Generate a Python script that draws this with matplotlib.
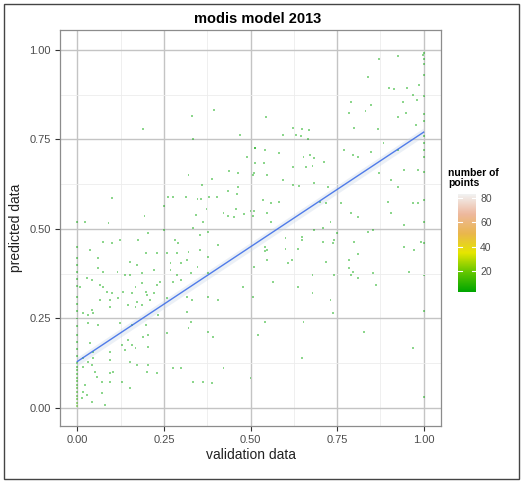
import numpy as np
import matplotlib
matplotlib.use("Agg")
import matplotlib.pyplot as plt
from matplotlib.colors import LinearSegmentedColormap, Normalize
from matplotlib.patches import Rectangle

plt.rcParams['font.family'] = ['Liberation Sans', 'DejaVu Sans']

# scattered single points (validation, predicted)
val_x = [0.332, 0.396, 0.191, 0.335, 0.471, 0.512, 0.491, 0.321, 0.439, 0.465,
         0.506, 0.390, 0.361, 0.465, 0.434, 0.101, 0.263, 0.277, 0.315, 0.347,
         0.358, 0.379, 0.402, 0.462, 0.251, 0.373, 0.457, 0.422, 0.434, 0.451,
         0.480, 0.500, 0.506, 0.344, 0.194, 0.364, 0.023, 0.090,
         0.925, 0.870, 0.997, 0.838, 0.899, 0.913, 0.951, 0.986, 0.968, 0.980,
         0.789, 0.847, 0.939, 0.832, 0.783, 0.948, 0.925, 0.546, 0.624, 0.650,
         0.668, 0.798, 0.867, 0.595, 0.630, 0.645, 0.665, 0.977, 0.514, 0.543,
         0.581, 0.769, 0.795, 0.809, 0.847, 0.884, 0.925, 0.653, 0.673, 0.682,
         0.711, 0.514, 0.538, 0.624, 0.659, 0.679, 0.509, 0.549, 0.595, 0.624,
         0.639, 0.682, 0.725, 0.870, 0.905, 0.925, 0.942, 0.983, 0.535, 0.558,
         0.581, 0.509, 0.549, 0.702, 0.717, 0.760, 0.789, 0.809, 0.896, 0.905,
         0.968, 0.983, 0.558, 0.731, 0.942,
         0.075, 0.101, 0.124, 0.176, 0.205, 0.249, 0.283, 0.292, 0.335, 0.355,
         0.376, 0.405, 0.038, 0.197, 0.231, 0.260, 0.289, 0.321, 0.355, 0.376,
         0.061, 0.153, 0.173, 0.269, 0.298, 0.318, 0.347, 0.509, 0.061, 0.075,
         0.116, 0.139, 0.153, 0.188, 0.220, 0.269, 0.289, 0.327, 0.376, 0.029,
         0.043, 0.066, 0.075, 0.009, 0.168, 0.188, 0.231, 0.240, 0.277, 0.298,
         0.087, 0.101, 0.133, 0.159, 0.197, 0.202, 0.220, 0.066, 0.095, 0.118,
         0.173, 0.211, 0.260, 0.318, 0.332, 0.376, 0.405, 0.477, 0.506, 0.095,
         0.145, 0.168, 0.188, 0.043, 0.017, 0.032, 0.046, 0.234, 0.318, 0.327,
         0.032, 0.061, 0.124, 0.159, 0.197, 0.260, 0.321, 0.376, 0.393, 0.191,
         0.205, 0.145, 0.130, 0.159, 0.139, 0.168, 0.205, 0.038, 0.046, 0.095,
         0.017, 0.032, 0.046, 0.095, 0.153, 0.173, 0.205, 0.231, 0.275, 0.298,
         0.422, 0.017, 0.043, 0.052, 0.058, 0.095, 0.104, 0.072, 0.095, 0.130,
         0.153, 0.202, 0.335, 0.364, 0.390, 0.500, 0.023, 0.017, 0.029, 0.014,
         0.043, 0.072, 0.081,
         0.682, 0.708, 0.751, 0.838, 0.855, 0.601, 0.650, 0.650, 0.708, 0.737,
         0.740, 0.798, 0.543, 0.543, 0.549, 0.601, 0.636, 0.809, 0.942, 0.971,
         0.991, 0.549, 0.607, 0.621, 0.717, 0.783, 0.783, 0.795, 0.789, 0.853,
         0.957, 0.679, 0.740, 0.809, 0.564, 0.636, 0.861, 0.679, 0.731, 0.737,
         0.543, 0.653, 0.523, 0.827, 0.968, 0.650]
pred_y = [0.816, 0.832, 0.779, 0.751, 0.763, 0.726, 0.701, 0.651, 0.662, 0.656,
          0.651, 0.640, 0.623, 0.617, 0.606, 0.587, 0.589, 0.589, 0.589, 0.584,
          0.584, 0.589, 0.589, 0.598, 0.564, 0.556, 0.556, 0.545, 0.536, 0.534,
          0.542, 0.550, 0.536, 0.539, 0.536, 0.520, 0.520, 0.517,
          0.983, 0.975, 0.986, 0.925, 0.894, 0.891, 0.894, 0.902, 0.874, 0.860,
          0.855, 0.846, 0.855, 0.830, 0.824, 0.824, 0.813, 0.813, 0.782, 0.779,
          0.777, 0.782, 0.779, 0.763, 0.763, 0.760, 0.751, 0.791, 0.726, 0.721,
          0.712, 0.721, 0.707, 0.701, 0.715, 0.740, 0.721, 0.701, 0.707, 0.698,
          0.687, 0.684, 0.684, 0.673, 0.673, 0.676, 0.656, 0.651, 0.637, 0.623,
          0.620, 0.628, 0.617, 0.656, 0.637, 0.617, 0.665, 0.665, 0.581, 0.573,
          0.575, 0.550, 0.545, 0.575, 0.573, 0.573, 0.545, 0.534, 0.575, 0.545,
          0.573, 0.573, 0.520, 0.520, 0.511,
          0.464, 0.461, 0.469, 0.469, 0.489, 0.497, 0.469, 0.461, 0.503, 0.483,
          0.492, 0.455, 0.441, 0.433, 0.433, 0.433, 0.433, 0.436, 0.441, 0.422,
          0.419, 0.408, 0.399, 0.405, 0.405, 0.413, 0.394, 0.394, 0.391, 0.380,
          0.380, 0.372, 0.372, 0.377, 0.385, 0.385, 0.372, 0.377, 0.377, 0.363,
          0.358, 0.344, 0.338, 0.338, 0.338, 0.349, 0.344, 0.352, 0.352, 0.358,
          0.324, 0.321, 0.324, 0.321, 0.324, 0.316, 0.321, 0.302, 0.302, 0.307,
          0.296, 0.302, 0.307, 0.310, 0.302, 0.310, 0.302, 0.338, 0.310, 0.282,
          0.288, 0.282, 0.288, 0.274, 0.265, 0.260, 0.265, 0.260, 0.268, 0.240,
          0.237, 0.232, 0.237, 0.232, 0.232, 0.209, 0.223, 0.212, 0.198, 0.198,
          0.204, 0.190, 0.176, 0.176, 0.162, 0.168, 0.170, 0.182, 0.156, 0.156,
          0.140, 0.128, 0.140, 0.134, 0.128, 0.120, 0.120, 0.098, 0.112, 0.112,
          0.112, 0.115, 0.120, 0.101, 0.087, 0.098, 0.101, 0.073, 0.073, 0.073,
          0.056, 0.101, 0.073, 0.073, 0.070, 0.084, 0.064, 0.045, 0.036, 0.028,
          0.017, 0.042, 0.008,
          0.497, 0.503, 0.489, 0.492, 0.497, 0.475, 0.478, 0.469, 0.464, 0.461,
          0.469, 0.464, 0.450, 0.439, 0.441, 0.444, 0.444, 0.430, 0.450, 0.441,
          0.464, 0.413, 0.405, 0.413, 0.408, 0.413, 0.391, 0.380, 0.372, 0.377,
          0.380, 0.372, 0.372, 0.363, 0.352, 0.338, 0.344, 0.321, 0.302, 0.265,
          0.240, 0.240, 0.204, 0.212, 0.168, 0.140]

# points stacked on validation = 0 and validation = 1, with their counts
zero_col_y = [0.005, 0.015, 0.025, 0.035, 0.045, 0.055, 0.065, 0.075, 0.085,
              0.095, 0.105, 0.115, 0.125, 0.145, 0.165, 0.185, 0.205, 0.23,
              0.25, 0.27, 0.29, 0.31, 0.34, 0.36, 0.38, 0.40, 0.42, 0.45, 0.52]
zero_col_n = [14, 12, 10, 9, 8, 8, 7, 6, 6, 5, 5, 4, 4, 3, 2, 2, 2, 1,
              1, 1, 1, 1, 1, 1, 1, 1, 1, 1, 1]
one_col_y = [0.99, 0.975, 0.96, 0.93, 0.87, 0.82, 0.80, 0.76, 0.74, 0.72,
             0.70, 0.66, 0.58, 0.52, 0.46, 0.37, 0.27, 0.03]
one_col_n = [2, 1, 1, 1, 1, 1, 1, 1, 1, 1, 1, 1, 1, 1, 1, 1, 1, 1]

# linear fit shown on the chart
fit_intercept = 0.13
fit_slope = 0.64

count_min, count_max = 3, 83
cbar_ticks = [20, 40, 60, 80]

terrain = LinearSegmentedColormap.from_list(
    'terrain_r', ['#00A600', '#63C600', '#E6E600', '#EAB64E', '#EEB99F', '#F2F2F2'])
norm = Normalize(count_min, count_max)

fig = plt.figure(figsize=(5.23, 4.83), dpi=100)
ax = fig.add_axes([60/523, 1 - 426/483, 381/523, 396/483])

all_x = val_x + [0.0]*len(zero_col_y) + [1.0]*len(one_col_y)
all_y = pred_y + zero_col_y + one_col_y
all_n = [1]*len(val_x) + zero_col_n + one_col_n
ax.scatter(all_x, all_y, c=all_n, cmap=terrain, norm=norm, s=2.0, marker='s',
           linewidths=0, alpha=0.45, zorder=3)

xs = np.array([0.0, 1.0])
ys = fit_intercept + fit_slope*xs
ax.fill_between(xs, ys - 0.012, ys + 0.012, color='#c8d4e8', alpha=0.35,
                lw=0, zorder=2)
ax.plot(xs, ys, color='#3F6FE8', lw=1.0, alpha=0.9, zorder=4)

ax.set_xlim(-0.05, 1.05)
ax.set_ylim(-0.05, 1.055)
ticks = [0.0, 0.25, 0.5, 0.75, 1.0]
ax.set_xticks(ticks)
ax.set_yticks(ticks)
ax.set_xticklabels(['0.00', '0.25', '0.50', '0.75', '1.00'])
ax.set_yticklabels(['0.00', '0.25', '0.50', '0.75', '1.00'])
ax.set_xticks([0.125, 0.375, 0.625, 0.875], minor=True)
ax.set_yticks([0.125, 0.375, 0.625, 0.875], minor=True)
ax.tick_params(which='major', length=3.5, width=0.8, color='#333333',
               labelsize=8, labelcolor='#4D4D4D', pad=3)
ax.tick_params(which='minor', length=0)
ax.grid(which='major', color='#C4C4C4', lw=1.0, zorder=0)
ax.grid(which='minor', color='#ECECEC', lw=0.6, zorder=0)
ax.set_axisbelow(True)
for sp in ax.spines.values():
    sp.set_color('#8C8C8C')
    sp.set_linewidth(0.9)

ax.set_xlabel('validation data', fontsize=10, color='#222222', labelpad=2)
ax.set_ylabel('predicted data', fontsize=10, color='#222222', labelpad=5)
fig.text(258/523, 1 - 19/483, 'modis model 2013', fontsize=10.5,
         fontweight='bold', ha='center', va='center')

# colour bar for counts
cax = fig.add_axes([458/523, 1 - 292/483, 18/523, 98/483])
grad = np.linspace(count_min, count_max, 200).reshape(-1, 1)
cax.imshow(grad, cmap=terrain, norm=norm, aspect='auto', origin='lower',
           extent=[0, 1, count_min, count_max])
cax.set_xticks([])
cax.set_yticks(cbar_ticks)
cax.yaxis.tick_right()
cax.tick_params(axis='y', length=0, labelsize=7.5, labelcolor='#4D4D4D', pad=3)
for t in cbar_ticks:
    cax.plot([0, 0.2], [t, t], color='white', lw=0.8)
    cax.plot([0.8, 1], [t, t], color='white', lw=0.8)
cax.set_xlim(0, 1)
cax.set_ylim(count_min, count_max)
for sp in cax.spines.values():
    sp.set_visible(False)
fig.text(448/523, 1 - 168/483, 'number of\npoints', fontsize=7.5,
         fontweight='bold', va='top', ha='left', linespacing=0.95)

# outer frame of the picture
fig.patches.append(Rectangle((4/523, 4/483), 515/523, 475/483, fill=False,
                             edgecolor='#444444', lw=1.0,
                             transform=fig.transFigure, figure=fig))

fig.savefig('out.png', dpi=100)
